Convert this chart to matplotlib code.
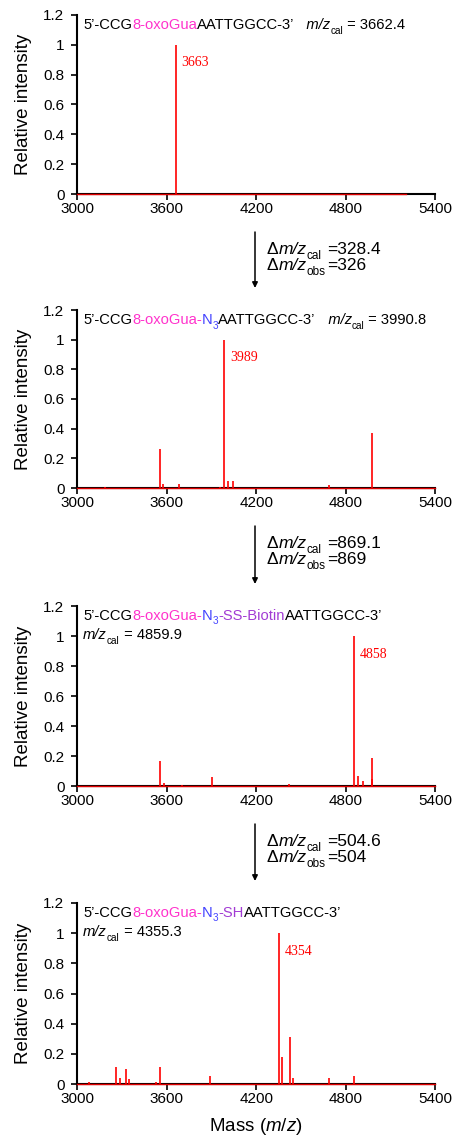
import numpy as np
import matplotlib
matplotlib.use("Agg")
import matplotlib.pyplot as plt
from matplotlib.ticker import FuncFormatter, MultipleLocator

plt.rcParams["font.family"] = ["Liberation Sans", "DejaVu Sans"]
plt.rcParams["mathtext.fontset"] = "custom"
plt.rcParams["mathtext.rm"] = "Liberation Sans"
plt.rcParams["mathtext.it"] = "Liberation Sans:italic"

# peak lists (m/z, relative intensity)
peaks1_mz = [3663]
peaks1_int = [1.0]
peaks2_mz = [3190, 3558, 3576, 3680, 3957, 3987, 4009, 4045, 4685, 4976]
peaks2_int = [0.01, 0.26, 0.03, 0.03, 0.01, 1.0, 0.05, 0.05, 0.02, 0.37]
peaks3_mz = [3557, 3580, 3700, 3905, 4417, 4857, 4880, 4913, 4974, 4978]
peaks3_int = [0.17, 0.02, 0.005, 0.06, 0.015, 1.0, 0.07, 0.035, 0.19, 0.05]
peaks4_mz = [3078, 3262, 3290, 3325, 3350, 3527, 3556, 3889, 4353, 4374, 4429, 4445, 4684, 4853]
peaks4_int = [0.01, 0.11, 0.04, 0.10, 0.03, 0.01, 0.11, 0.05, 1.0, 0.18, 0.31, 0.04, 0.04, 0.05]
scan_end = [5200, 5400, 5400, 5400]

peak_labels = ["3663", "3989", "4858", "4354"]
mz_cal = ["3662.4", "3990.8", "4859.9", "4355.3"]
delta_cal = ["328.4", "869.1", "504.6"]
delta_obs = ["326", "869", "504"]

MAG, BLUE, PURP = "#ff33cc", "#4444ff", "#a23cd4"
seq_pieces = [
    [("5’-CCG", "k", "n"), ("8-oxoGua", MAG, "n"), ("AATTGGCC-3’", "k", "n")],
    [("5’-CCG", "k", "n"), ("8-oxoGua-", MAG, "n"), ("N", BLUE, "n"), ("3", BLUE, "sub"),
     ("AATTGGCC-3’", "k", "n")],
    [("5’-CCG", "k", "n"), ("8-oxoGua-", MAG, "n"), ("N", BLUE, "n"), ("3", BLUE, "sub"),
     ("-SS-Biotin", PURP, "n"), ("AATTGGCC-3’", "k", "n")],
    [("5’-CCG", "k", "n"), ("8-oxoGua-", MAG, "n"), ("N", BLUE, "n"), ("3", BLUE, "sub"),
     ("-SH", PURP, "n"), ("AATTGGCC-3’", "k", "n")],
]
mz_newline = [False, False, True, True]

W, H = 456, 1140
ax_left, ax_w = 77, 358.5
ax_top = [15, 310, 606, 903]
ax_bot = [194, 488, 786, 1084]


def rich(ax, xy, pieces, coords, size):
    prev = None
    for text, color, kind in pieces:
        fs = size * 0.68 if kind == "sub" else size
        dy = -0.3 * size if kind == "sub" else 0
        if prev is None:
            xyc, pos = coords, xy
        else:
            xyc, pos = (prev, coords), (1, xy[1])
        prev = ax.annotate(text, xy=pos, xycoords=xyc, xytext=(0, dy),
                           textcoords="offset points", ha="left", va="baseline",
                           fontsize=fs, color=color,
                           fontstyle="italic" if kind == "it" else "normal",
                           annotation_clip=False)
    return prev


fig = plt.figure(figsize=(W / 100, H / 100), dpi=100)
spectra = [(peaks1_mz, peaks1_int), (peaks2_mz, peaks2_int),
           (peaks3_mz, peaks3_int), (peaks4_mz, peaks4_int)]
axes = []
for i, (mz, inten) in enumerate(spectra):
    ax = fig.add_axes([ax_left / W, 1 - ax_bot[i] / H, ax_w / W, (ax_bot[i] - ax_top[i]) / H])
    axes.append(ax)
    ax.vlines(mz, 0, inten, color="#ff0000", lw=1.2, zorder=3)
    ax.plot([3000, scan_end[i]], [0, 0], color="#e00000", lw=1.0, zorder=4, clip_on=False)
    ax.set_xlim(3000, 5400)
    ax.set_ylim(0, 1.2)
    ax.xaxis.set_major_locator(MultipleLocator(600))
    ax.yaxis.set_major_locator(MultipleLocator(0.2))
    ax.yaxis.set_major_formatter(FuncFormatter(lambda v, _: f"{v:g}"))
    for s in ["top", "right"]:
        ax.spines[s].set_visible(False)
    for s in ["left", "bottom"]:
        ax.spines[s].set_linewidth(1.5)
    ax.tick_params(axis="both", direction="out", length=4, width=1.2, labelsize=11)
    ax.tick_params(axis="x", pad=2)
    ax.tick_params(axis="y", pad=5)
    ax.set_ylabel("Relative intensity", fontsize=13.5)
    ax.yaxis.set_label_coords(-0.125, 0.5)

    # main peak label
    k = int(np.argmax(inten))
    ax.annotate(peak_labels[i], xy=(mz[k], 0.88), xytext=(4, 0), textcoords="offset points",
                ha="left", va="center", color="#ff0000", fontsize=10,
                family=["Liberation Serif", "DejaVu Serif"])

    # sequence and calculated m/z
    cal = [("m/z", "k", "it"), ("cal", "k", "sub"), (" = " + mz_cal[i], "k", "n")]
    if mz_newline[i]:
        rich(ax, (0.017, 0.925), seq_pieces[i], "axes fraction", 10.6)
        rich(ax, (0.017, 0.815), cal, "axes fraction", 10.6)
    else:
        pieces = seq_pieces[i] + [("   m/z", "k", "it")] + cal[1:]
        rich(ax, (0.017, 0.92), pieces, "axes fraction", 10.6)

axes[-1].set_xlabel("Mass ($\\mathit{m/z}$)", fontsize=13.5, labelpad=7)

# arrows between spectra with mass shifts
arrow_x = 255 / W
for j in range(3):
    top = ax_bot[j] + 38
    tip = ax_top[j + 1] - 22
    axes[0].annotate("", xy=(arrow_x, 1 - tip / H), xytext=(arrow_x, 1 - top / H),
                     xycoords="figure fraction", textcoords="figure fraction",
                     arrowprops=dict(arrowstyle="-|>", color="k", lw=1.1,
                                     mutation_scale=8, shrinkA=0, shrinkB=0))
    for line, (sub, val) in enumerate([("cal", delta_cal[j]), ("obs", delta_obs[j])]):
        yb = 1 - (top + 22 + 16 * line) / H
        rich(axes[0], (267 / W, yb), [("Δ", "k", "n"), ("m/z", "k", "it"), (sub, "k", "sub")],
             "figure fraction", 12.5)
        axes[0].annotate("=" + val, xy=(327 / W, yb), xycoords="figure fraction",
                         ha="left", va="baseline", fontsize=12.5, annotation_clip=False)

fig.savefig("out.png", dpi=100)
